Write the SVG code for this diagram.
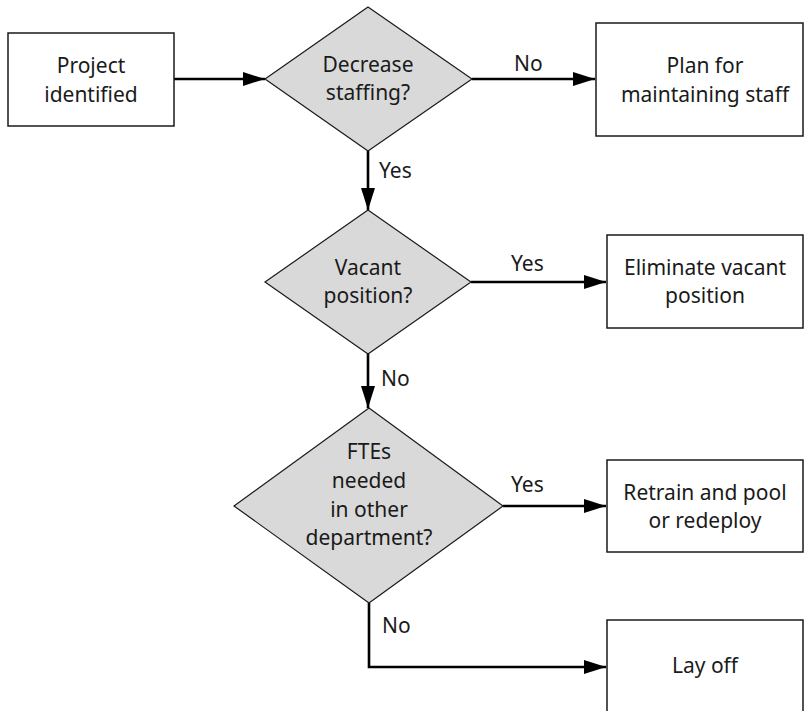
<svg xmlns="http://www.w3.org/2000/svg" width="805" height="711" viewBox="0 0 805 711">
<style>
.box{fill:#fff;stroke:#1a1a1a;stroke-width:1.5}
.dia{fill:#d9d9d9;stroke:#1a1a1a;stroke-width:1.2}
.t{font-family:"Noto Sans","Liberation Sans",sans-serif;font-size:21px;fill:#1a1a1a;text-anchor:middle}
.l{font-family:"Noto Sans","Liberation Sans",sans-serif;font-size:21px;fill:#1a1a1a}
.c{fill:none;stroke:#000;stroke-width:2.6}
</style>
<defs>
<marker id="ah" markerUnits="userSpaceOnUse" markerWidth="24" markerHeight="14" refX="22" refY="7" orient="auto">
<path d="M0,0 L22,7 L0,14 Z" fill="#000"/>
</marker>
</defs>
<g id="connectors">
<line class="c" x1="174" y1="79" x2="265" y2="79" marker-end="url(#ah)"/>
<line class="c" x1="472" y1="79" x2="595" y2="79" marker-end="url(#ah)"/>
<line class="c" x1="368" y1="151" x2="368" y2="210" marker-end="url(#ah)"/>
<line class="c" x1="471" y1="282" x2="606" y2="282" marker-end="url(#ah)"/>
<line class="c" x1="368" y1="354" x2="368" y2="408" marker-end="url(#ah)"/>
<line class="c" x1="503" y1="506" x2="606" y2="506" marker-end="url(#ah)"/>
<polyline class="c" points="369,603 369,667 606,667" marker-end="url(#ah)"/>
<text class="l" x="514" y="71">No</text>
<text class="l" x="379" y="178">Yes</text>
<text class="l" x="511" y="271">Yes</text>
<text class="l" x="381" y="386">No</text>
<text class="l" x="511" y="492">Yes</text>
<text class="l" x="382" y="633">No</text>
</g>
<g id="project">
<rect class="box" x="8" y="33" width="166" height="93"/>
<text class="t" x="91" y="73">Project</text>
<text class="t" x="91" y="102">identified</text>
</g>
<g id="decrease">
<polygon class="dia" points="368,7 472,79 368,151 265,79"/>
<text class="t" x="368" y="72">Decrease</text>
<text class="t" x="368" y="100">staffing?</text>
</g>
<g id="plan">
<rect class="box" x="596" y="23" width="207" height="113"/>
<text class="t" x="705" y="73">Plan for</text>
<text class="t" x="705" y="102">maintaining staff</text>
</g>
<g id="vacant">
<polygon class="dia" points="368,210 471,282 368,354 265,282"/>
<text class="t" x="368" y="275">Vacant</text>
<text class="t" x="368" y="303">position?</text>
</g>
<g id="eliminate">
<rect class="box" x="607" y="235" width="196" height="93"/>
<text class="t" x="705" y="275">Eliminate vacant</text>
<text class="t" x="705" y="303">position</text>
</g>
<g id="ftes">
<polygon class="dia" points="369,408 503,506 369,603 234,506"/>
<text class="t" x="369" y="459">FTEs</text>
<text class="t" x="369" y="488">needed</text>
<text class="t" x="369" y="517">in other</text>
<text class="t" x="369" y="545">department?</text>
</g>
<g id="retrain">
<rect class="box" x="607" y="460" width="196" height="92"/>
<text class="t" x="705" y="500">Retrain and pool</text>
<text class="t" x="705" y="528">or redeploy</text>
</g>
<g id="layoff">
<rect class="box" x="607" y="620" width="196" height="100"/>
<text class="t" x="705" y="673">Lay off</text>
</g>
</svg>
